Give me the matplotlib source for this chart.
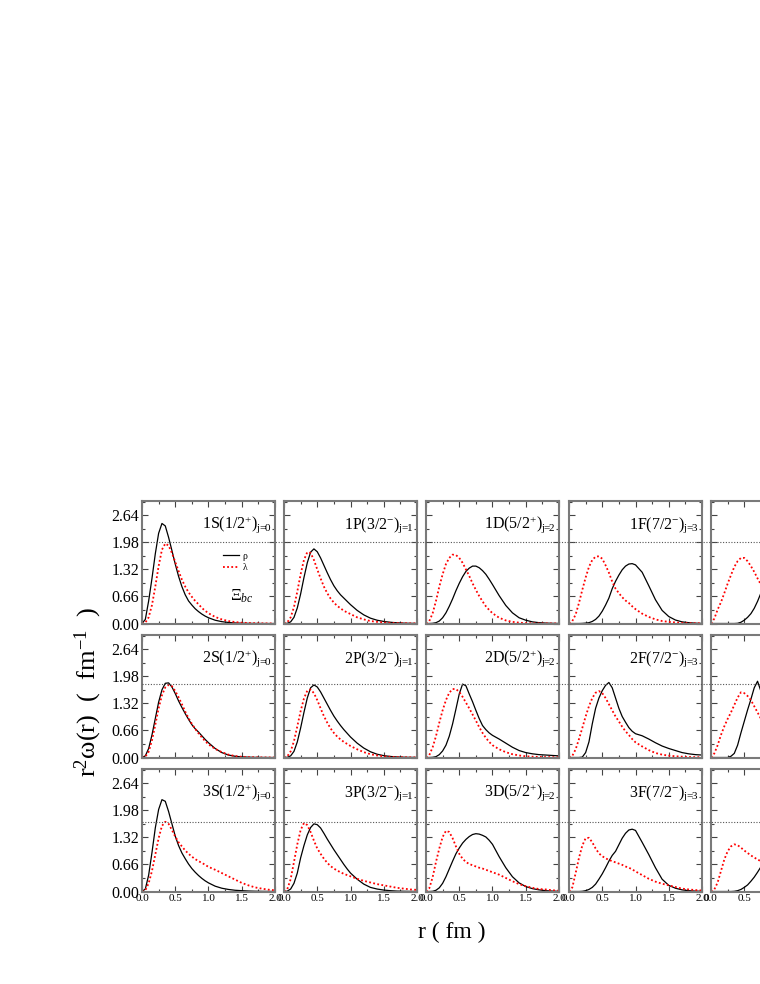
"""
Radial density distributions of the rho / lambda modes for Xi_bc states,
3 x 5 panel grid (the fifth column runs off the right edge of the page).
"""
import matplotlib
matplotlib.use("Agg")
import matplotlib.pyplot as plt
from matplotlib.lines import Line2D
from matplotlib.ticker import MultipleLocator, FormatStrFormatter
from matplotlib.transforms import blended_transform_factory

plt.rcParams.update({
    "font.family": ["Liberation Serif", "DejaVu Serif"],
    "mathtext.fontset": "custom",
    "mathtext.rm": "Liberation Serif",
    "mathtext.it": "Liberation Serif:italic",
    "mathtext.bf": "Liberation Serif:bold",
    "text.color": "black",
})

FRAME = "#7a7a7a"
RHO_C, LAM_C, REF_C = "black", "red", "#555555"

# ---------------- data ----------------
R = [0.0, 0.05, 0.1, 0.15, 0.2, 0.25, 0.3, 0.35, 0.4, 0.45,
     0.5, 0.55, 0.6, 0.65, 0.7, 0.75, 0.8, 0.85, 0.9, 0.95,
     1.0, 1.1, 1.2, 1.3, 1.4, 1.5, 1.6, 1.7, 1.8, 1.9, 2.0]

# n = 1
rho_1S = [0, 0.10, 0.55, 1.10, 1.70, 2.20, 2.44, 2.38, 2.10, 1.78,
          1.45, 1.15, 0.90, 0.70, 0.55, 0.45, 0.36, 0.29, 0.23, 0.18,
          0.14, 0.08, 0.045, 0.025, 0.013, 0.007, 0.004, 0.002, 0.001, 0, 0]
lam_1S = [0, 0.02, 0.15, 0.45, 0.90, 1.40, 1.80, 1.95, 1.90, 1.72,
          1.50, 1.28, 1.07, 0.90, 0.76, 0.65, 0.55, 0.47, 0.38, 0.31,
          0.25, 0.16, 0.10, 0.06, 0.035, 0.02, 0.012, 0.007, 0.004, 0.002, 0.001]
rho_1P = [0, 0.005, 0.04, 0.15, 0.38, 0.72, 1.12, 1.48, 1.74, 1.82,
          1.75, 1.60, 1.42, 1.24, 1.07, 0.92, 0.80, 0.70, 0.62, 0.54,
          0.46, 0.32, 0.21, 0.13, 0.08, 0.05, 0.03, 0.017, 0.009, 0.005, 0.002]
lam_1P = [0, 0.03, 0.15, 0.40, 0.78, 1.20, 1.55, 1.74, 1.72, 1.55,
          1.32, 1.10, 0.90, 0.74, 0.61, 0.51, 0.43, 0.37, 0.31, 0.27,
          0.23, 0.15, 0.10, 0.06, 0.04, 0.025, 0.015, 0.01, 0.006, 0.004, 0.002]
rho_1D = [0, 0, 0.005, 0.02, 0.06, 0.14, 0.26, 0.42, 0.60, 0.80,
          0.98, 1.14, 1.27, 1.35, 1.40, 1.40, 1.36, 1.29, 1.20, 1.08,
          0.95, 0.68, 0.44, 0.26, 0.14, 0.08, 0.04, 0.02, 0.01, 0.005, 0.002]
lam_1D = [0, 0.06, 0.25, 0.55, 0.90, 1.20, 1.45, 1.60, 1.68, 1.67,
          1.60, 1.48, 1.32, 1.16, 0.98, 0.82, 0.67, 0.54, 0.42, 0.33,
          0.25, 0.14, 0.075, 0.04, 0.02, 0.01, 0.006, 0.004, 0.002, 0.001, 0]
rho_1F = [0, 0, 0, 0, 0.003, 0.01, 0.02, 0.05, 0.10, 0.18,
          0.30, 0.45, 0.62, 0.85, 1.03, 1.18, 1.31, 1.40, 1.45, 1.46,
          1.43, 1.25, 0.92, 0.58, 0.32, 0.17, 0.085, 0.04, 0.02, 0.008, 0.003]
lam_1F = [0, 0.06, 0.22, 0.50, 0.82, 1.12, 1.38, 1.55, 1.63, 1.64,
          1.58, 1.42, 1.24, 1.02, 0.85, 0.74, 0.64, 0.56, 0.50, 0.42,
          0.35, 0.24, 0.16, 0.10, 0.06, 0.04, 0.025, 0.015, 0.01, 0.006, 0.004]
rho_1G = [0, 0, 0, 0, 0, 0, 0, 0, 0.005, 0.03,
          0.08, 0.15, 0.24, 0.37, 0.54, 0.74, 0.95, 1.13, 1.27, 1.37,
          1.42, 1.38, 1.20, 0.90, 0.58, 0.33, 0.17, 0.08, 0.04, 0.02, 0.008]
lam_1G = [0, 0.12, 0.34, 0.52, 0.74, 0.97, 1.18, 1.38, 1.52, 1.60,
          1.60, 1.52, 1.40, 1.26, 1.10, 0.95, 0.80, 0.66, 0.54, 0.44,
          0.36, 0.24, 0.15, 0.09, 0.055, 0.035, 0.02, 0.012, 0.007, 0.004, 0.002]

# n = 2
rho_2S = [0, 0.04, 0.22, 0.55, 0.95, 1.35, 1.65, 1.81, 1.82, 1.72,
          1.56, 1.38, 1.22, 1.07, 0.93, 0.80, 0.70, 0.62, 0.53, 0.44,
          0.36, 0.22, 0.12, 0.06, 0.03, 0.015, 0.008, 0.004, 0.002, 0.001, 0]
lam_2S = [0, 0.02, 0.14, 0.42, 0.80, 1.20, 1.52, 1.71, 1.77, 1.74,
          1.62, 1.47, 1.30, 1.12, 0.96, 0.82, 0.70, 0.59, 0.49, 0.40,
          0.32, 0.21, 0.13, 0.07, 0.035, 0.018, 0.009, 0.005, 0.002, 0.001, 0]
rho_2P = [0, 0.005, 0.04, 0.15, 0.38, 0.72, 1.10, 1.45, 1.70, 1.77,
          1.72, 1.60, 1.45, 1.30, 1.15, 1.01, 0.89, 0.78, 0.68, 0.59,
          0.50, 0.35, 0.23, 0.14, 0.08, 0.045, 0.025, 0.013, 0.007, 0.004, 0.002]
lam_2P = [0, 0.03, 0.15, 0.40, 0.76, 1.13, 1.44, 1.63, 1.66, 1.57,
          1.40, 1.20, 1.01, 0.85, 0.71, 0.60, 0.51, 0.44, 0.38, 0.33,
          0.28, 0.20, 0.13, 0.08, 0.05, 0.03, 0.018, 0.01, 0.006, 0.003, 0.002]
rho_2D = [0, 0, 0.005, 0.02, 0.07, 0.16, 0.30, 0.52, 0.82, 1.18,
          1.55, 1.79, 1.75, 1.55, 1.36, 1.15, 0.95, 0.78, 0.68, 0.60,
          0.54, 0.45, 0.35, 0.25, 0.17, 0.12, 0.09, 0.07, 0.06, 0.05, 0.04]
lam_2D = [0, 0.06, 0.25, 0.52, 0.85, 1.15, 1.40, 1.58, 1.67, 1.67,
          1.60, 1.48, 1.34, 1.20, 1.05, 0.90, 0.74, 0.60, 0.48, 0.38,
          0.30, 0.20, 0.13, 0.08, 0.05, 0.03, 0.02, 0.015, 0.01, 0.008, 0.006]
rho_2F = [0, 0, 0, 0, 0.01, 0.12, 0.38, 0.82, 1.20, 1.45,
          1.63, 1.76, 1.83, 1.70, 1.45, 1.20, 1.00, 0.86, 0.73, 0.64,
          0.58, 0.53, 0.45, 0.36, 0.28, 0.22, 0.17, 0.12, 0.09, 0.07, 0.06]
lam_2F = [0, 0.04, 0.20, 0.45, 0.72, 1.00, 1.25, 1.45, 1.58, 1.62,
          1.57, 1.45, 1.30, 1.15, 1.00, 0.88, 0.75, 0.64, 0.55, 0.45,
          0.37, 0.27, 0.18, 0.11, 0.07, 0.045, 0.03, 0.02, 0.013, 0.009, 0.006]
rho_2G = [0, 0, 0, 0, 0, 0, 0.03, 0.10, 0.30, 0.60,
          0.88, 1.16, 1.42, 1.70, 1.86, 1.62, 1.40, 1.18, 1.00, 0.85,
          0.75, 0.60, 0.45, 0.32, 0.20, 0.12, 0.07, 0.04, 0.025, 0.015, 0.01]
lam_2G = [0, 0.10, 0.30, 0.55, 0.76, 0.94, 1.10, 1.28, 1.46, 1.59,
          1.57, 1.50, 1.40, 1.25, 1.10, 0.95, 0.82, 0.70, 0.60, 0.50,
          0.42, 0.30, 0.20, 0.13, 0.08, 0.05, 0.03, 0.02, 0.012, 0.008, 0.005]

# n = 3
rho_3S = [0, 0.06, 0.40, 0.95, 1.55, 2.00, 2.24, 2.20, 1.95, 1.65,
          1.35, 1.12, 0.94, 0.80, 0.67, 0.56, 0.47, 0.39, 0.32, 0.26,
          0.21, 0.13, 0.08, 0.05, 0.03, 0.02, 0.012, 0.007, 0.004, 0.002, 0.001]
lam_3S = [0, 0.03, 0.20, 0.50, 0.90, 1.30, 1.60, 1.70, 1.65, 1.50,
          1.34, 1.20, 1.10, 1.00, 0.92, 0.85, 0.79, 0.74, 0.70, 0.65,
          0.60, 0.53, 0.45, 0.37, 0.29, 0.21, 0.15, 0.10, 0.07, 0.045, 0.03]
rho_3P = [0, 0.01, 0.06, 0.20, 0.45, 0.82, 1.12, 1.38, 1.56, 1.65,
          1.63, 1.55, 1.42, 1.28, 1.15, 1.02, 0.90, 0.78, 0.66, 0.55,
          0.45, 0.30, 0.18, 0.10, 0.06, 0.035, 0.02, 0.01, 0.006, 0.003, 0.002]
lam_3P = [0, 0.06, 0.30, 0.72, 1.15, 1.50, 1.67, 1.62, 1.45, 1.24,
          1.05, 0.92, 0.80, 0.70, 0.62, 0.56, 0.51, 0.47, 0.43, 0.40,
          0.37, 0.31, 0.26, 0.22, 0.18, 0.15, 0.12, 0.09, 0.07, 0.05, 0.04]
rho_3D = [0, 0, 0.005, 0.03, 0.09, 0.20, 0.36, 0.55, 0.74, 0.92,
          1.06, 1.18, 1.27, 1.34, 1.39, 1.41, 1.40, 1.37, 1.33, 1.25,
          1.15, 0.85, 0.58, 0.36, 0.21, 0.12, 0.07, 0.04, 0.02, 0.01, 0.005]
lam_3D = [0, 0.08, 0.35, 0.72, 1.05, 1.33, 1.48, 1.45, 1.30, 1.10,
          0.92, 0.80, 0.72, 0.67, 0.64, 0.61, 0.58, 0.56, 0.53, 0.50,
          0.47, 0.41, 0.33, 0.25, 0.18, 0.13, 0.09, 0.06, 0.05, 0.03, 0.02]
rho_3F = [0, 0, 0, 0, 0.005, 0.02, 0.05, 0.10, 0.18, 0.30,
          0.43, 0.58, 0.74, 0.88, 0.98, 1.14, 1.30, 1.42, 1.50, 1.52,
          1.49, 1.20, 0.90, 0.58, 0.30, 0.15, 0.08, 0.04, 0.02, 0.01, 0.005]
lam_3F = [0, 0.10, 0.45, 0.82, 1.12, 1.30, 1.31, 1.20, 1.05, 0.93,
          0.86, 0.81, 0.77, 0.74, 0.71, 0.68, 0.65, 0.61, 0.58, 0.54,
          0.49, 0.40, 0.31, 0.24, 0.19, 0.15, 0.11, 0.07, 0.05, 0.035, 0.025]
rho_3G = [0, 0, 0, 0, 0, 0, 0, 0.005, 0.02, 0.05,
          0.10, 0.16, 0.25, 0.35, 0.47, 0.60, 0.74, 0.88, 1.00, 1.10,
          1.18, 1.25, 1.20, 1.02, 0.78, 0.54, 0.34, 0.20, 0.11, 0.06, 0.03]
lam_3G = [0, 0.05, 0.22, 0.50, 0.78, 0.98, 1.10, 1.15, 1.13, 1.07,
          1.00, 0.94, 0.88, 0.83, 0.78, 0.74, 0.70, 0.66, 0.62, 0.58,
          0.54, 0.46, 0.38, 0.30, 0.23, 0.17, 0.12, 0.08, 0.05, 0.03, 0.02]

RHO = [[rho_1S, rho_1P, rho_1D, rho_1F, rho_1G],
       [rho_2S, rho_2P, rho_2D, rho_2F, rho_2G],
       [rho_3S, rho_3P, rho_3D, rho_3F, rho_3G]]
LAM = [[lam_1S, lam_1P, lam_1D, lam_1F, lam_1G],
       [lam_2S, lam_2P, lam_2D, lam_2F, lam_2G],
       [lam_3S, lam_3P, lam_3D, lam_3F, lam_3G]]

WAVES = ["S", "P", "D", "F", "G"]
SPINS = ["1/2", "3/2", "5/2", "7/2", "9/2"]
PARITY = ["+", "-", "+", "-", "+"]
REF_LEVEL = [1.98, 1.80, 1.70]      # dotted guide line per row

# ---------------- layout (pixels of the 760 x 984 page) ----------------
FW, FH = 760, 984
COL_X = [142, 284, 426, 569, 711]
ROW_BOTTOM = [623.5, 757.5, 891.5]
PW, PH = 133, 123

fig = plt.figure(figsize=(FW / 100, FH / 100), dpi=100)
fig.patch.set_facecolor("white")

axes = []
for i in range(3):
    row = []
    for j in range(5):
        ax = fig.add_axes([COL_X[j] / FW, 1 - ROW_BOTTOM[i] / FH, PW / FW, PH / FH])
        h_rho, = ax.plot(R, RHO[i][j], color=RHO_C, lw=0.9, label="ρ")
        h_lam, = ax.plot(R, LAM[i][j], color=LAM_C, lw=1.3,
                         ls=(0, (1, 1.3)), label="λ")
        ax.set_xlim(0, 2.0)
        ax.set_ylim(0, 3.0)
        ax.xaxis.set_major_locator(MultipleLocator(0.5))
        ax.xaxis.set_minor_locator(MultipleLocator(0.25))
        ax.yaxis.set_major_locator(MultipleLocator(0.66))
        ax.yaxis.set_minor_locator(MultipleLocator(0.33))
        ax.xaxis.set_major_formatter(FormatStrFormatter("%.1f"))
        ax.yaxis.set_major_formatter(FormatStrFormatter("%.2f"))
        ax.tick_params(which="both", direction="in", top=True, right=True,
                       color="#444444", width=0.8,
                       labelleft=(j == 0), labelbottom=(i == 2))
        ax.tick_params(which="major", length=4)
        ax.tick_params(which="minor", length=2)
        ax.tick_params(axis="y", labelsize=11.5, pad=2)
        ax.tick_params(axis="x", labelsize=8, pad=1.5)
        for s in ax.spines.values():
            s.set_color(FRAME)
            s.set_linewidth(1.5)

        label = (f"{i + 1}{WAVES[j]}({SPINS[j]}$^{{{PARITY[j]}}}$)"
                 f"$_{{\\mathrm{{j}}\\!\\!=\\!\\!{j}}}$")
        ax.text(0.975, 0.775, label, transform=ax.transAxes,
                ha="right", va="baseline", fontsize=11.5)

        if i == 0 and j == 0:
            ax.legend(handles=[h_rho, h_lam], loc="upper left",
                      bbox_to_anchor=(0.61, 0.585), frameon=False,
                      fontsize=7, handlelength=1.6, handletextpad=0.4,
                      labelspacing=0.25, borderpad=0, borderaxespad=0)
            ax.text(0.66, 0.185, r"$\Xi_{bc}$", transform=ax.transAxes,
                    ha="left", va="baseline", fontsize=12)
        row.append(ax)
    axes.append(row)

# dotted guide lines run across the whole row
for i in range(3):
    tr = blended_transform_factory(fig.transFigure, axes[i][0].transData)
    fig.add_artist(Line2D([COL_X[0] / FW, 1.0], [REF_LEVEL[i], REF_LEVEL[i]],
                          transform=tr, color=REF_C, lw=0.8,
                          ls=(0, (1, 1.5))))

fig.text(88 / FW, 1 - 692 / FH, "r$^{2}$ω(r)  (  fm$^{-1}$  )", rotation=90,
         ha="center", va="center", fontsize=19)
fig.text(452 / FW, 1 - 932 / FH, "r ( fm )", ha="center", va="center",
         fontsize=17)

fig.savefig("out.png", dpi=100)
